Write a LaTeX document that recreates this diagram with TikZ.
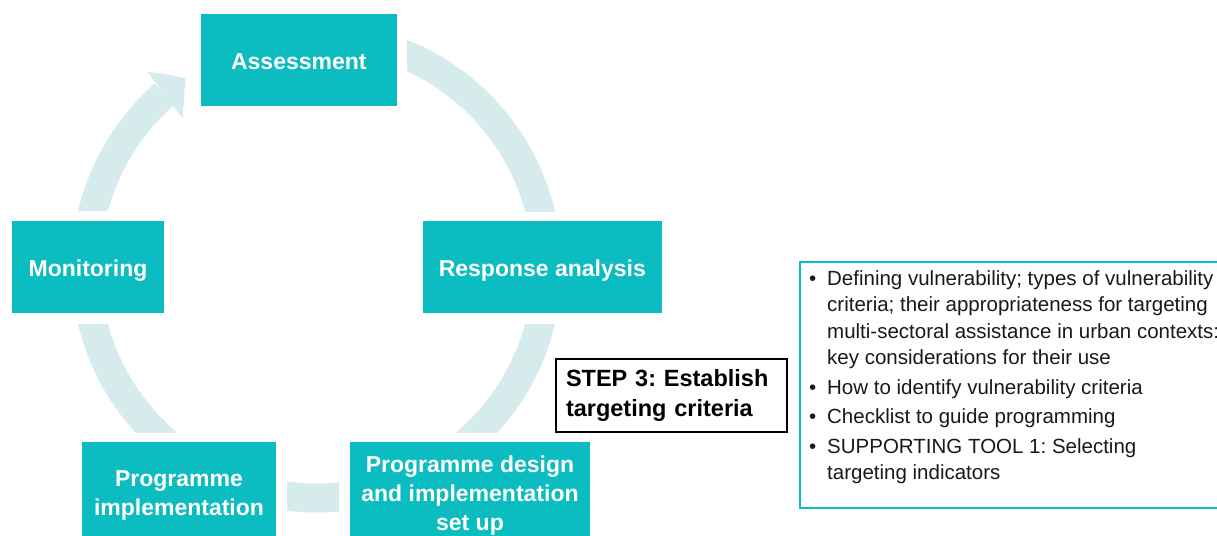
\documentclass[tikz,border=0pt]{standalone}
\usepackage{fontspec}
\setmainfont{Liberation Sans}
\definecolor{tealbox}{RGB}{11,188,193}
\definecolor{bandcol}{RGB}{214,236,236}
\definecolor{ink}{RGB}{25,25,25}
\frenchspacing
\begin{document}
\begin{tikzpicture}[x=1pt,y=-1pt,
  stage/.style={fill=tealbox, text=white, font=\fontsize{23}{29}\selectfont\bfseries, align=center, inner sep=0pt},
  single/.style={text height=19pt, text depth=0pt},
  stepbox/.style={draw=black, line width=2.5pt, fill=white, minimum width=231pt, minimum height=73pt, text width=211pt, inner xsep=10pt, inner ysep=0pt, align=left, font=\fontsize{23.5}{30}\selectfont\bfseries, text=black},
  bl/.style={anchor=base west, inner sep=0pt, font=\fontsize{20.5}{26}\selectfont, text=ink},
  band/.style={fill=bandcol, even odd rule}]
\useasboundingbox (0,0) rectangle (1217,535);
\clip (0,0) rectangle (1217,535);

\coordinate (C) at (316.5,267.5);
% cycle bands
\begin{scope}
  \clip (407,-50) rectangle (700,211);
  \fill[band] (C) circle[radius=245pt] (C) circle[radius=216pt];
\end{scope}
\begin{scope}
  \clip (316.5,324) rectangle (700,432);
  \fill[band] (C) circle[radius=245pt] (C) circle[radius=216pt];
\end{scope}
\begin{scope}
  \clip (287,440) rectangle (339,600);
  \fill[band] (C) circle[radius=245pt] (C) circle[radius=216pt];
\end{scope}
\begin{scope}
  \clip (-50,324) rectangle (316.5,432);
  \fill[band] (C) circle[radius=245pt] (C) circle[radius=216pt];
\end{scope}
\begin{scope}
  \clip (316.5,267.5) -- (13.5,-77.5) -- (-50,-77.5) -- (-50,211) -- (316.5,211) -- cycle;
  \fill[band] (C) circle[radius=245pt] (C) circle[radius=216pt];
\end{scope}
\fill[bandcol] (147.3,71.7) -- (168.3,74.5) -- (185.5,78.3) -- (182.7,118.3) -- cycle;

% stages
\node[stage, single, minimum width=195.7pt, minimum height=91.4pt] (assess) at (298.85,60) {Assessment};
\node[stage, single, minimum width=152pt, minimum height=92pt] (monit) at (88,267) {Monitoring};
\node[stage, single, minimum width=238.7pt, minimum height=92pt] (resp) at (542.35,267) {Response analysis};
\node[stage, minimum width=194pt, minimum height=107pt] (impl) at (179,495.5) {Programme\\implementation};
\node[stage, minimum width=240pt, minimum height=107pt] (design) at (470,495.5) {Programme design\\and implementation\\set up};

% step box
\node[stepbox] (step) at (671.5,395.5) {STEP 3: Establish\\targeting criteria};

% info box
\node[draw=tealbox, line width=2pt, minimum width=470pt, minimum height=246pt, anchor=north west, inner sep=0pt] (info) at (799,260.5) {};
\node[bl] (l1) at (827,285) {\llap{•\hspace{11pt}}Defining vulnerability; types of vulnerability};
\node[bl] (l2) at (827,311.5) {criteria; their appropriateness for targeting};
\node[bl] (l3) at (827,338) {multi-sectoral assistance in urban contexts:};
\node[bl] (l4) at (827,364) {key considerations for their use};
\node[bl] (l5) at (827,394) {\llap{•\hspace{11pt}}How to identify vulnerability criteria};
\node[bl] (l6) at (827,423.5) {\llap{•\hspace{11pt}}Checklist to guide programming};
\node[bl] (l7) at (827,453) {\llap{•\hspace{11pt}}SUPPORTING TOOL 1: Selecting};
\node[bl] (l8) at (827,479) {targeting indicators};
\end{tikzpicture}
\end{document}
